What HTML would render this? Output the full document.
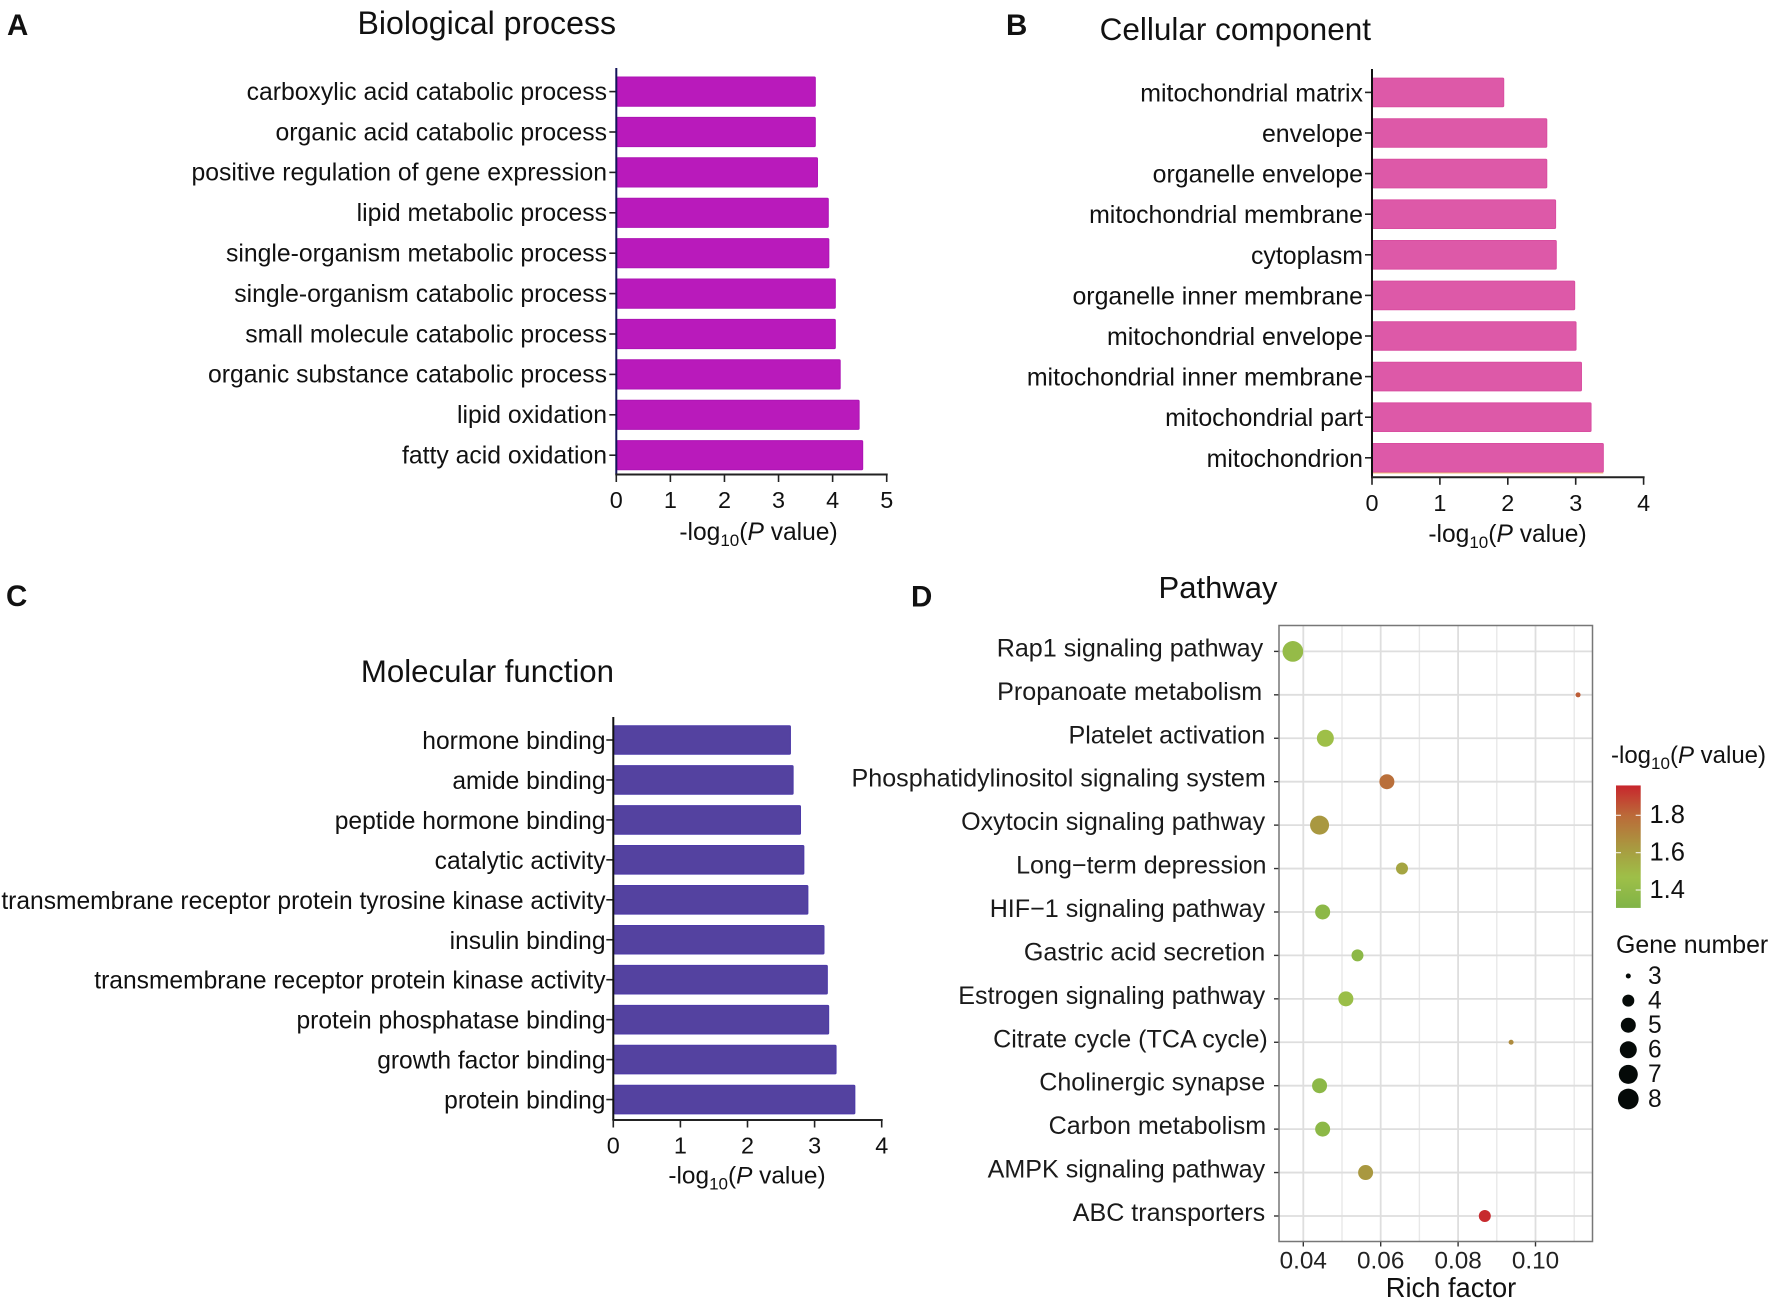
<!DOCTYPE html>
<html lang="en">
<head>
<meta charset="utf-8">
<title>GO and pathway enrichment</title>
<style>
html,body{margin:0;padding:0;background:#fff;}
svg{display:block;font-family:"Liberation Sans",Arial,sans-serif;fill:#111;}
</style>
</head>
<body>
<svg id="figure" xmlns="http://www.w3.org/2000/svg" width="1772" height="1301" viewBox="0 0 1772 1301">
  <rect x="0" y="0" width="1772" height="1301" fill="#ffffff"/>
  <text x="7" y="35" font-size="29.5" font-weight="bold">A</text>
  <text x="1006" y="35" font-size="29.5" font-weight="bold">B</text>
  <text x="6" y="606" font-size="29.5" font-weight="bold">C</text>
  <text x="911" y="606.5" font-size="29.5" font-weight="bold">D</text>
  <text x="616" y="34" font-size="32.1" text-anchor="end">Biological process</text>
  <text x="1371" y="40" font-size="31.5" text-anchor="end">Cellular component</text>
  <text x="614" y="682" font-size="31.2" text-anchor="end">Molecular function</text>
  <text x="1218" y="598" font-size="31" text-anchor="middle">Pathway</text>
  <text x="758.5" y="540" font-size="24.6" text-anchor="middle">-log<tspan dy="6" font-size="17">10</tspan><tspan dy="-6">(</tspan><tspan font-style="italic">P</tspan> value)</text>
  <text x="1507.5" y="542" font-size="24.6" text-anchor="middle">-log<tspan dy="6" font-size="17">10</tspan><tspan dy="-6">(</tspan><tspan font-style="italic">P</tspan> value)</text>
  <text x="747" y="1183.5" font-size="24.4" text-anchor="middle">-log<tspan dy="6" font-size="17">10</tspan><tspan dy="-6">(</tspan><tspan font-style="italic">P</tspan> value)</text>
  <text x="1451" y="1297" font-size="27.3" text-anchor="middle">Rich factor</text>
  <text x="1611" y="763" font-size="24">-log<tspan dy="6" font-size="17">10</tspan><tspan dy="-6">(</tspan><tspan font-style="italic">P</tspan> value)</text>
  <text x="1616" y="953" font-size="24.9">Gene number</text>
</svg>
<script>
// Panel A: biological process
const bpCategories = ["carboxylic acid catabolic process","organic acid catabolic process","positive regulation of gene expression","lipid metabolic process","single-organism metabolic process","single-organism catabolic process","small molecule catabolic process","organic substance catabolic process","lipid oxidation","fatty acid oxidation"];
const bpValues = [3.68,3.68,3.72,3.92,3.93,4.05,4.05,4.14,4.49,4.556];
const bpTicks = [0,1,2,3,4,5];

// Panel B: cellular component
const ccCategories = ["mitochondrial matrix","envelope","organelle envelope","mitochondrial membrane","cytoplasm","organelle inner membrane","mitochondrial envelope","mitochondrial inner membrane","mitochondrial part","mitochondrion"];
const ccValues = [1.94,2.574,2.574,2.704,2.714,2.985,3.005,3.085,3.226,3.407];
const ccTicks = [0,1,2,3,4];

// Panel C: molecular function
const mfCategories = ["hormone binding","amide binding","peptide hormone binding","catalytic activity","transmembrane receptor protein tyrosine kinase activity","insulin binding","transmembrane receptor protein kinase activity","protein phosphatase binding","growth factor binding","protein binding"];
const mfValues = [2.64,2.68,2.79,2.84,2.90,3.14,3.19,3.21,3.32,3.60];
const mfTicks = [0,1,2,3,4];

// Panel D: pathway bubble chart
const pathwayNames = ["Rap1 signaling pathway","Propanoate metabolism","Platelet activation","Phosphatidylinositol signaling system","Oxytocin signaling pathway","Long\u2212term depression","HIF\u22121 signaling pathway","Gastric acid secretion","Estrogen signaling pathway","Citrate cycle (TCA cycle)","Cholinergic synapse","Carbon metabolism","AMPK signaling pathway","ABC transporters"];
const pathwayRichFactor = [0.0373,0.1110,0.0457,0.0616,0.0442,0.0655,0.0450,0.0540,0.0510,0.0937,0.0442,0.0450,0.0561,0.0869];
const pathwayGeneNumber = [8,3,6,5,7,4,5,4,5,3,5,5,5,4];
const pathwayLogP = [1.42,1.83,1.47,1.78,1.63,1.58,1.37,1.37,1.45,1.68,1.37,1.37,1.63,1.95];
const richMajorTicks = [0.04,0.06,0.08,0.10];
const richMinorTicks = [0.05,0.07,0.09,0.11];
const colorLegendTicks = [1.4,1.6,1.8];
const sizeLegendGenes = [3,4,5,6,7,8];

const SVGNS = "http://www.w3.org/2000/svg";
const root = document.getElementById("figure");

function mk(tag, attrs, text) {
  const el = document.createElementNS(SVGNS, tag);
  for (const k in attrs) el.setAttribute(k, attrs[k]);
  if (text !== undefined) el.textContent = text;
  root.appendChild(el);
  return el;
}

function drawBarPanel(cfg) {
  const xScale = v => cfg.x0 + (v - cfg.ticks[0]) * cfg.unit;
  const yScale = i => cfg.firstCenter + i * cfg.pitch;
  cfg.values.forEach((v, i) => {
    const bar = mk("rect", {x: xScale(0) + 0.5, y: yScale(i) - cfg.barH / 2, width: xScale(v) - xScale(0) - 0.5, height: cfg.barH, rx: 1, fill: cfg.color, stroke: cfg.edge, "stroke-width": 1});
    
    
    const tick = mk("line", {x1: xScale(0) - 7, x2: xScale(0), y1: yScale(i), y2: yScale(i), stroke: "#222", "stroke-width": 1.6});
    
    
    const label = mk("text", {x: cfg.labelX, y: yScale(i) + cfg.labelDy, "font-size": cfg.labelSize, "text-anchor": "end"}, cfg.categories[i]);
    
    
  });
  const yAxis = mk("line", {x1: xScale(0), x2: xScale(0), y1: cfg.axisTop, y2: cfg.axisY, stroke: cfg.axisColor, "stroke-width": 2});
  
  
  const xAxis = mk("line", {x1: xScale(0) - 1, x2: xScale(cfg.ticks[cfg.ticks.length - 1]) + 1, y1: cfg.axisY, y2: cfg.axisY, stroke: "#222", "stroke-width": 2});
  
  
  cfg.ticks.forEach(t => {
    const tick = mk("line", {x1: xScale(t), x2: xScale(t), y1: cfg.axisY, y2: cfg.axisY + 7.5, stroke: "#222", "stroke-width": 1.6});
    
    
    const label = mk("text", {x: xScale(t), y: cfg.axisY + 33.5, "font-size": 23.4, "text-anchor": "middle"}, String(t));
    
    
  });
}

drawBarPanel({categories: bpCategories, values: bpValues, ticks: bpTicks, x0: 616.3, unit: 54.08, firstCenter: 91.6, pitch: 40.4, barH: 29.2, color: "#b91abb", edge: "#ad14b4", axisTop: 68, axisY: 474.5, axisColor: "#14145a", labelX: 607, labelDy: 8.3, labelSize: 24.75});
drawBarPanel({categories: ccCategories, values: ccValues, ticks: ccTicks, x0: 1372, unit: 67.9, firstCenter: 92.4, pitch: 40.6, barH: 28.6, color: "#dd59a8", edge: "#d94ea0", axisTop: 69, axisY: 477.3, axisColor: "#111", labelX: 1363, labelDy: 9, labelSize: 24.9});
drawBarPanel({categories: mfCategories, values: mfValues, ticks: mfTicks, x0: 613.3, unit: 67.1, firstCenter: 740, pitch: 39.95, barH: 28.6, color: "#5442a0", edge: "#4c3aa8", axisTop: 717, axisY: 1120, axisColor: "#111", labelX: 605.5, labelDy: 9, labelSize: 24.6});

// thin orange artefact line under the last cellular-component bar
const ccEdge = mk("line", {x1: 1373, x2: 1372 + ccValues[ccValues.length - 1] * 67.9, y1: 473, y2: 473, stroke: "#efc07a", "stroke-width": 1});



// Panel D
const dLeft = 1279, dRight = 1592.5, dTop = 625.5, dBottom = 1241.5;
const xRich = v => 1303.3 + (v - 0.04) * 3870;
const yRow = i => 651.4 + i * 43.43;
const panelBg = mk("rect", {x: dLeft, y: dTop, width: dRight - dLeft, height: dBottom - dTop, fill: "#fff"});



richMinorTicks.forEach(t => {
  const g = mk("line", {x1: xRich(t), x2: xRich(t), y1: dTop, y2: dBottom, stroke: "#e8e8e8", "stroke-width": 1.4});
  
  
});
richMajorTicks.forEach(t => {
  const g = mk("line", {x1: xRich(t), x2: xRich(t), y1: dTop, y2: dBottom, stroke: "#dedede", "stroke-width": 1.8});
  
  
  const tk = mk("line", {x1: xRich(t), x2: xRich(t), y1: dBottom, y2: dBottom + 5, stroke: "#333", "stroke-width": 1.4});
  
  
  const lb = mk("text", {x: xRich(t), y: dBottom + 27, "font-size": 24.3, "text-anchor": "middle", fill: "#222"}, t.toFixed(2));
  
  
});

function pathwayLabelRight(i) {
  // the reference's hand-placed labels do not share one right edge
  switch (i) {
    case 0: return 1263.2;
    case 1: return 1262.2;
    case 3: return 1265.8;
    case 5: return 1266.5;
    case 9: return 1267.8;
    case 11: return 1266.2;
    default: return 1265.2;
  }
}

pathwayNames.forEach((name, i) => {
  const g = mk("line", {x1: dLeft, x2: dRight, y1: yRow(i), y2: yRow(i), stroke: "#dedede", "stroke-width": 1.8});
  
  
  const tk = mk("line", {x1: dLeft - 5, x2: dLeft, y1: yRow(i), y2: yRow(i), stroke: "#333", "stroke-width": 1.4});
  
  
  const lb = mk("text", {x: pathwayLabelRight(i), y: yRow(i) + 5, "font-size": 25.1, "text-anchor": "end", fill: "#1a1a1a"}, name);
  
  
});

function geneDiameter(n) {
  if (n <= 3) return 5;
  if (n === 4) return 12;
  if (n === 5) return 15;
  if (n === 6) return 17;
  if (n === 7) return 19;
  return 20.7;
}

function logPColor(v) {
  const stops = [[1.30,[127,179,71]],[1.47,[158,191,72]],[1.62,[168,155,64]],[1.80,[187,106,57]],[1.96,[200,38,45]]];
  if (v <= stops[0][0]) return "rgb(" + stops[0][1].join(",") + ")";
  for (let i = 1; i < stops.length; i++) {
    if (v <= stops[i][0]) {
      const t = (v - stops[i-1][0]) / (stops[i][0] - stops[i-1][0]);
      const c = stops[i-1][1].map((a, k) => Math.round(a + (stops[i][1][k] - a) * t));
      return "rgb(" + c.join(",") + ")";
    }
  }
  return "rgb(" + stops[stops.length-1][1].join(",") + ")";
}

pathwayNames.forEach((name, i) => {
  const dot = mk("circle", {cx: xRich(pathwayRichFactor[i]), cy: yRow(i), r: geneDiameter(pathwayGeneNumber[i]) / 2, fill: logPColor(pathwayLogP[i])});
  
  
});

const panelBorder = mk("rect", {x: dLeft, y: dTop, width: dRight - dLeft, height: dBottom - dTop, fill: "none", stroke: "#777", "stroke-width": 1.5});



// Colour legend
const yLegend = v => 890 - (v - 1.4) * 186.7;
const cbTopVal = 1.96, cbBottomVal = 1.304;
const defs = mk("defs", {});


const grad = document.createElementNS(SVGNS, "linearGradient");
grad.setAttribute("id", "logp-gradient");
grad.setAttribute("x1", "0"); grad.setAttribute("y1", "1"); grad.setAttribute("x2", "0"); grad.setAttribute("y2", "0");
for (let s = 0; s <= 20; s++) {
  const st = document.createElementNS(SVGNS, "stop");
  st.setAttribute("offset", s / 20);
  st.setAttribute("stop-color", logPColor(cbBottomVal + (cbTopVal - cbBottomVal) * s / 20));
  grad.appendChild(st);
}
defs.appendChild(grad);
const cb = mk("rect", {x: 1616, y: yLegend(cbTopVal), width: 24.7, height: yLegend(cbBottomVal) - yLegend(cbTopVal), fill: "url(#logp-gradient)"});


colorLegendTicks.forEach(t => {
  const a = mk("line", {x1: 1616, x2: 1621, y1: yLegend(t), y2: yLegend(t), stroke: "#fff", "stroke-width": 1.2, opacity: 0.8});
  
  
  const b = mk("line", {x1: 1635.7, x2: 1640.7, y1: yLegend(t), y2: yLegend(t), stroke: "#fff", "stroke-width": 1.2, opacity: 0.8});
  
  
  const lb = mk("text", {x: 1649.5, y: yLegend(t) + 7.8, "font-size": 25.5}, t.toFixed(1));
  
  
});

// Size legend
const ySize = i => 976 + i * 24.6;
sizeLegendGenes.forEach((g, i) => {
  const dot = mk("circle", {cx: 1628.3, cy: ySize(i), r: geneDiameter(g) / 2, fill: "#050a08"});
  
  
  const lb = mk("text", {x: 1648, y: ySize(i) + 7.8, "font-size": 24.6}, String(g));
  
  
});
</script>
</body>
</html>
